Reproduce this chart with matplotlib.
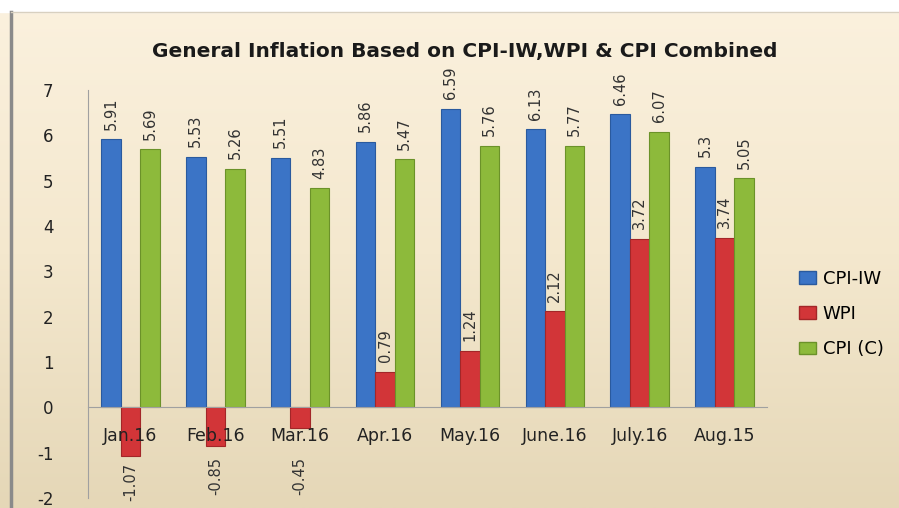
import matplotlib
matplotlib.use("Agg")
import matplotlib.pyplot as plt
import numpy as np
from matplotlib.patches import Patch
from matplotlib.colors import LinearSegmentedColormap

categories = ["Jan.16", "Feb.16", "Mar.16", "Apr.16", "May.16", "June.16", "July.16", "Aug.15"]
cpi_iw = [5.91, 5.53, 5.51, 5.86, 6.59, 6.13, 6.46, 5.3]
wpi = [-1.07, -0.85, -0.45, 0.79, 1.24, 2.12, 3.72, 3.74]
cpi_c = [5.69, 5.26, 4.83, 5.47, 5.76, 5.77, 6.07, 5.05]
series_names = ["CPI-IW", "WPI", "CPI (C)"]
colors = ["#3B74C6", "#D23538", "#8DBA3B"]
edges = ["#2A5A9E", "#A32628", "#6B9229"]

plt.rcParams['font.family'] = ['DejaVu Sans']

fig = plt.figure(figsize=(8.99, 5.08), dpi=100)

# background gradient
bg = fig.add_axes([0, 0, 1, 1], zorder=-10)
grad = np.linspace(0, 1, 256).reshape(-1, 1)
cmap = LinearSegmentedColormap.from_list("bg", ["#FBF1DE", "#F4E8CE", "#E5D7B7"])
bg.imshow(grad, aspect='auto', cmap=cmap, extent=[0, 1, 0, 1], origin='upper')
bg.fill_between([0, 1], 1 - 12 / 508, 1, color="white")
bg.plot([11 / 899, 11 / 899], [0, 1 - 12 / 508], color="#8A8A8A", lw=2.5)
bg.plot([11 / 899, 1], [1 - 12 / 508, 1 - 12 / 508], color="#D8D0C0", lw=1)
bg.set_xlim(0, 1)
bg.set_ylim(0, 1)
bg.axis('off')

ax = fig.add_axes([88 / 899, 1 - 498 / 508, (767 - 88) / 899, (498 - 90) / 508])
ax.patch.set_alpha(0)
ax.set_axisbelow(False)
ax.spines['bottom'].set_position(('data', 0))
ax.spines['bottom'].set_color("#A0A0A0")
ax.spines['left'].set_color("#A0A0A0")
ax.spines['top'].set_visible(False)
ax.spines['right'].set_visible(False)

x = np.arange(len(categories))
w = 0.23
data = [cpi_iw, wpi, cpi_c]
offsets = [-w, 0, w]
for vals, off, c, ec in zip(data, offsets, colors, edges):
    ax.bar(x + off, vals, width=w, color=c, edgecolor=ec, linewidth=0.8, zorder=2)
    for xi, v in zip(x + off, vals):
        if v >= 0:
            ax.annotate(f"{v:g}", (xi, v), xytext=(0, 7), textcoords='offset points',
                        rotation=90, ha='center', va='bottom', fontsize=10.5, color="#333333")
        else:
            ax.annotate(f"{v:g}", (xi, min(v, -0.95)), xytext=(0, -5), textcoords='offset points',
                        rotation=90, ha='center', va='top', fontsize=10.5, color="#333333")

ax.set_xlim(-0.5, len(categories) - 0.5)
ax.set_ylim(-2, 7)
ax.set_yticks(range(-2, 8))
ax.set_yticklabels([str(v) for v in range(-2, 8)], fontsize=12, color="#222222")
ax.tick_params(axis='y', length=0, pad=25)
ax.set_xticks(x)
ax.set_xticklabels(categories, fontsize=12.5, color="#222222")
ax.tick_params(axis='x', length=0, pad=14)

fig.text(465 / 899, 1 - 52 / 508, "General Inflation Based on CPI-IW,WPI & CPI Combined",
         ha='center', va='center', fontsize=14.5, fontweight='bold', color="#1A1A1A")

handles = [Patch(facecolor=c, edgecolor=ec) for c, ec in zip(colors, edges)]
fig.legend(handles, series_names, loc='center left', bbox_to_anchor=(783 / 899, 1 - 314 / 508),
           frameon=False, fontsize=13, labelspacing=0.95, handlelength=0.9, handleheight=0.7,
           handletextpad=0.4)

fig.savefig("out.png", dpi=100)
